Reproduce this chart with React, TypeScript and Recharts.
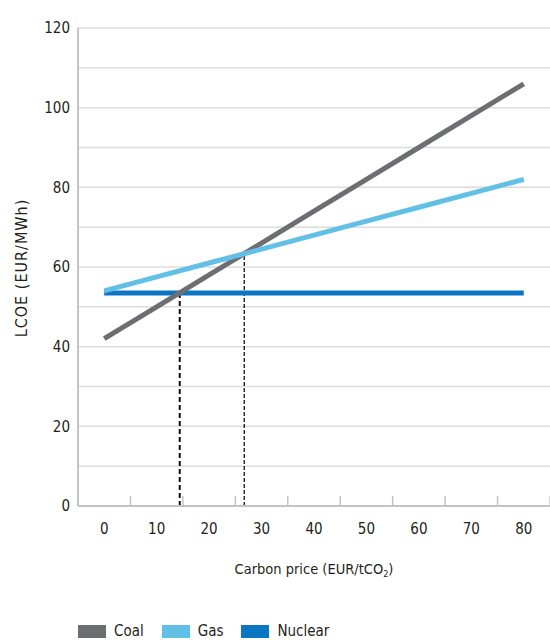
import { ComposedChart, Line, XAxis, YAxis, CartesianGrid, ReferenceLine, Legend } from 'recharts'

const carbonPrice = [0, 10, 20, 30, 40, 50, 60, 70, 80]
const coal = [42, 50, 58, 66, 74, 82, 90, 98, 106]
const gas = [54, 57.5, 61, 64.5, 68, 71.5, 75, 78.5, 82]
const nuclear = [53.5, 53.5, 53.5, 53.5, 53.5, 53.5, 53.5, 53.5, 53.5]

const yTicks = [0, 20, 40, 60, 80, 100, 120]
const gridValues = [10, 20, 30, 40, 50, 60, 70, 80, 90, 100, 110, 120]

// break-even points (carbon price, LCOE)
const coalNuclearCross = [14.4, 53.5]
const coalGasCross = [26.7, 63.3]

const data = carbonPrice.map((p, i) => ({
  price: p,
  coal: coal[i],
  gas: gas[i],
  nuclear: nuclear[i],
}))

const FONT = '"DejaVu Sans Condensed", "DejaVu Sans", sans-serif'
const W = 550
const H = 643
const Y_AXIS_W = 78
const HALF_STEP = (W - Y_AXIS_W) / 18

const colors = { coal: '#6d6e71', gas: '#62bfe6', nuclear: '#0b76c4' }

const XTick = ({ x, y, payload }) => {
  const axisY = y - 17
  return (
    <g>
      <line x1={x + HALF_STEP} x2={x + HALF_STEP} y1={axisY} y2={axisY - 10} stroke="#c4c4c4" strokeWidth={1.5} />
      <text x={x} y={y} dy="0.71em" textAnchor="middle" fontSize={15} fill="#231f20" fontFamily={FONT} style={{ fontStretch: 'condensed' }}>
        {payload.value}
      </text>
    </g>
  )
}

const XLabel = ({ viewBox }) => {
  const { x, y, width } = viewBox
  return (
    <text x={x + width / 2} y={y + 68} textAnchor="middle" fontSize={14.5} fill="#231f20" fontFamily={FONT} style={{ fontStretch: 'condensed' }}>
      Carbon price (EUR/tCO
      <tspan fontSize={9} dy={3}>2</tspan>
      <tspan dy={-3}>)</tspan>
    </text>
  )
}

const YLabel = ({ viewBox }) => {
  const { y, height } = viewBox
  const cx = 21
  const cy = y + height / 2 + 1
  return (
    <text
      x={cx}
      y={cy}
      transform={`rotate(-90 ${cx} ${cy})`}
      textAnchor="middle"
      dominantBaseline="central"
      fontSize={16}
      letterSpacing={1}
      fill="#231f20"
      fontFamily={FONT}
      style={{ fontStretch: 'condensed' }}
    >
      LCOE (EUR/MWh)
    </text>
  )
}

const legendItems = [
  { name: 'Coal', color: colors.coal },
  { name: 'Gas', color: colors.gas },
  { name: 'Nuclear', color: colors.nuclear },
]

const LegendContent = () => (
  <div style={{ height: 24, display: 'flex', alignItems: 'center', paddingLeft: 78, fontFamily: FONT, fontStretch: 'condensed', fontSize: 15, color: '#231f20' }}>
    {legendItems.map((it) => (
      <div key={it.name} style={{ display: 'flex', alignItems: 'center', marginRight: 18 }}>
        <span style={{ width: 28, height: 13, background: it.color, display: 'inline-block', marginRight: 8 }} />
        <span>{it.name}</span>
      </div>
    ))}
  </div>
)

export default function App() {
  return (
    <div style={{ position: 'absolute', left: 0, top: 0, width: W, height: H, background: '#fff' }}>
      <ComposedChart width={W} height={H} data={data} margin={{ top: 28, right: 0, bottom: 0, left: 0 }}>
        <CartesianGrid vertical={false} horizontalValues={gridValues} stroke="#dcdcdc" strokeWidth={1.5} />
        <XAxis
          dataKey="price"
          type="number"
          domain={[-5, 85]}
          ticks={carbonPrice}
          interval={0}
          height={113}
          tickSize={0}
          tickMargin={17}
          tickLine={false}
          axisLine={{ stroke: '#c4c4c4', strokeWidth: 2 }}
          tick={<XTick />}
          label={<XLabel />}
        />
        <YAxis
          type="number"
          domain={[0, 120]}
          ticks={yTicks}
          interval={0}
          width={Y_AXIS_W}
          tickSize={0}
          tickMargin={8}
          tickLine={false}
          axisLine={{ stroke: '#c4c4c4', strokeWidth: 2 }}
          tick={{ fontSize: 15, fill: '#231f20', fontFamily: FONT, style: { fontStretch: 'condensed' } }}
          label={<YLabel />}
        />
        <Legend verticalAlign="bottom" content={<LegendContent />} />
        <ReferenceLine
          segment={[{ x: coalNuclearCross[0], y: 0 }, { x: coalNuclearCross[0], y: coalNuclearCross[1] }]}
          stroke="#111"
          strokeWidth={2}
          strokeDasharray="5 3"
        />
        <ReferenceLine
          segment={[{ x: coalGasCross[0], y: 0 }, { x: coalGasCross[0], y: coalGasCross[1] }]}
          stroke="#111"
          strokeWidth={1.3}
          strokeDasharray="4 2"
        />
        <Line dataKey="nuclear" stroke={colors.nuclear} strokeWidth={5} dot={false} isAnimationActive={false} />
        <Line dataKey="coal" stroke={colors.coal} strokeWidth={5} dot={false} isAnimationActive={false} />
        <Line dataKey="gas" stroke={colors.gas} strokeWidth={5} dot={false} isAnimationActive={false} />
      </ComposedChart>
    </div>
  )
}
